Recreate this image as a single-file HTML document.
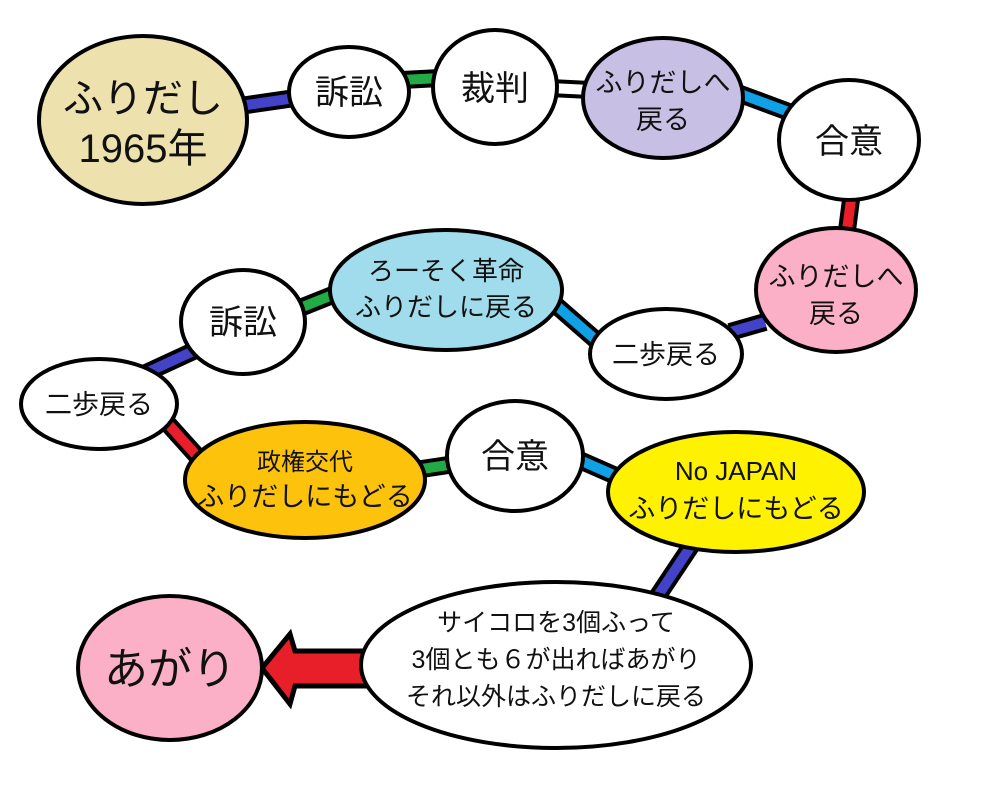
<!DOCTYPE html>
<html><head><meta charset="utf-8"><style>
html,body{margin:0;padding:0;background:#fff;width:987px;height:786px;overflow:hidden}
text{font-family:"Liberation Sans","Noto Sans CJK JP",sans-serif;fill:#111;text-anchor:middle}
</style></head><body>
<svg width="987" height="786" viewBox="0 0 987 786" xmlns="http://www.w3.org/2000/svg">
<g stroke-linecap="butt">
<g stroke="#000" stroke-width="18">
<line x1="240" y1="106" x2="295" y2="98"/>
<line x1="402" y1="80" x2="440" y2="78"/>
<line x1="550" y1="88" x2="590" y2="90"/>
<line x1="735" y1="92" x2="805" y2="118"/>
<line x1="852" y1="192" x2="846" y2="238"/>
<line x1="765" y1="322" x2="730" y2="332"/>
<line x1="605" y1="348" x2="550" y2="300"/>
<line x1="340" y1="292" x2="295" y2="310"/>
<line x1="200" y1="348" x2="135" y2="378"/>
<line x1="160" y1="415" x2="205" y2="465"/>
<line x1="415" y1="470" x2="455" y2="464"/>
<line x1="575" y1="458" x2="625" y2="480"/>
<line x1="695" y1="540" x2="655" y2="600"/>
</g>
<g stroke-width="10">
<line x1="240" y1="106" x2="295" y2="98" stroke="#4343c9"/>
<line x1="402" y1="80" x2="440" y2="78" stroke="#22aa44"/>
<line x1="550" y1="88" x2="590" y2="90" stroke="#fff"/>
<line x1="735" y1="92" x2="805" y2="118" stroke="#0fa0e6"/>
<line x1="852" y1="192" x2="846" y2="238" stroke="#e81e28"/>
<line x1="765" y1="322" x2="730" y2="332" stroke="#4343c9"/>
<line x1="605" y1="348" x2="550" y2="300" stroke="#0fa0e6"/>
<line x1="340" y1="292" x2="295" y2="310" stroke="#22aa44"/>
<line x1="200" y1="348" x2="135" y2="378" stroke="#4343c9"/>
<line x1="160" y1="415" x2="205" y2="465" stroke="#e81e28"/>
<line x1="415" y1="470" x2="455" y2="464" stroke="#22aa44"/>
<line x1="575" y1="458" x2="625" y2="480" stroke="#0fa0e6"/>
<line x1="695" y1="540" x2="655" y2="600" stroke="#4343c9"/>
</g>
</g>
<polygon points="370,651 295,651 290,634 262,668 290,704 295,686 370,686" fill="#e81e28" stroke="#000" stroke-width="5"/>
<g stroke="#000" stroke-width="4">
<ellipse cx="143" cy="120" rx="104" ry="84" fill="#ede1ae"/>
<ellipse cx="349" cy="92" rx="60" ry="45" fill="#fff"/>
<ellipse cx="495" cy="87" rx="62" ry="57" fill="#fff"/>
<ellipse cx="663" cy="98" rx="80" ry="60" fill="#c8c0e4"/>
<ellipse cx="849" cy="140" rx="70" ry="60" fill="#fff"/>
<ellipse cx="836" cy="290" rx="80" ry="62" fill="#fcb0c8"/>
<ellipse cx="666" cy="354" rx="76" ry="45" fill="#fff"/>
<ellipse cx="446" cy="290" rx="116" ry="60" fill="#a0dcec"/>
<ellipse cx="243" cy="322" rx="62" ry="52" fill="#fff"/>
<ellipse cx="99" cy="404" rx="78" ry="45" fill="#fff"/>
<ellipse cx="305" cy="480" rx="120" ry="58" fill="#fdc30c"/>
<ellipse cx="515" cy="456" rx="68" ry="55" fill="#fff"/>
<ellipse cx="736" cy="492" rx="128" ry="60" fill="#fff200"/>
<ellipse cx="556" cy="665" rx="195" ry="83" fill="#fff"/>
<ellipse cx="170" cy="668" rx="92" ry="72" fill="#fcb0c8"/>
</g>
<text x="143" y="112" font-size="40">ふりだし</text>
<text x="143" y="162" font-size="40">1965年</text>
<text x="349" y="104" font-size="34">訴訟</text>
<text x="495" y="100" font-size="34">裁判</text>
<text x="663" y="92" font-size="27">ふりだしへ</text>
<text x="663" y="129" font-size="27">戻る</text>
<text x="849" y="153" font-size="34">合意</text>
<text x="836" y="286" font-size="27">ふりだしへ</text>
<text x="836" y="323" font-size="27">戻る</text>
<text x="666" y="364" font-size="27">二歩戻る</text>
<text x="446" y="280" font-size="26">ろーそく革命</text>
<text x="446" y="316" font-size="26">ふりだしに戻る</text>
<text x="243" y="334" font-size="34">訴訟</text>
<text x="99" y="414" font-size="27">二歩戻る</text>
<text x="305" y="470" font-size="24">政権交代</text>
<text x="305" y="506" font-size="27">ふりだしにもどる</text>
<text x="515" y="468" font-size="34">合意</text>
<text x="736" y="480" font-size="26">No JAPAN</text>
<text x="736" y="518" font-size="27">ふりだしにもどる</text>
<text x="556" y="631" font-size="25">サイコロを3個ふって</text>
<text x="556" y="668" font-size="25">3個とも６が出ればあがり</text>
<text x="556" y="705" font-size="25">それ以外はふりだしに戻る</text>
<text x="170" y="684" font-size="44">あがり</text>
</svg>
</body></html>
